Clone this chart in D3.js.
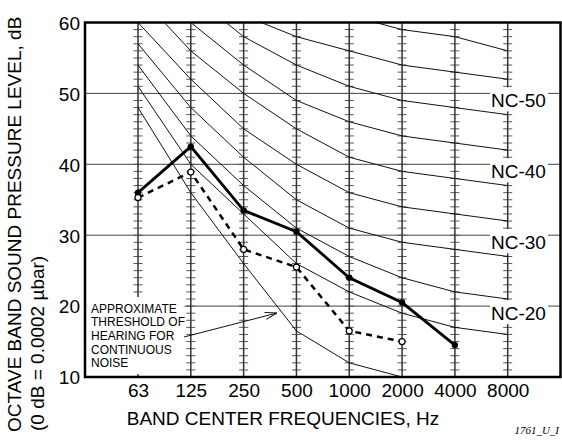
<!DOCTYPE html>
<html>
<head>
<meta charset="utf-8">
<script src="https://cdn.jsdelivr.net/npm/d3@7"></script>
<style>
  body { margin: 0; background: #fff; }
  svg { display: block; font-family: "Liberation Sans", Arial, Helvetica, sans-serif; }
  .grid line { stroke: #444; stroke-width: 1; }
  .freq-line { stroke: #333; stroke-width: 1.5; }
  .db-tick { stroke: #555; stroke-width: 1; }
  .nc-curve { fill: none; stroke: #111; stroke-width: 1; }
  .axis text { font-size: 19px; fill: #000; }
</style>
</head>
<body>
<svg id="chart"></svg>
<script>
// band centre frequencies and y axis ticks
const freqs = ['63', '125', '250', '500', '1000', '2000', '4000', '8000'];
const yTicks = [10, 20, 30, 40, 50, 60];

// NC curves, octave band levels (dB) at each frequency
const ncLevels = [20, 25, 30, 35, 40, 45, 50, 55, 60];
const ncValues = [
  [51, 40, 33, 26, 22, 19, 17, 16],
  [54, 44, 37, 31, 27, 24, 22, 21],
  [57, 48, 41, 35, 31, 29, 28, 27],
  [60, 52, 45, 40, 36, 34, 33, 32],
  [64, 56, 50, 45, 41, 39, 38, 37],
  [67, 60, 54, 49, 46, 44, 43, 42],
  [71, 64, 58, 54, 51, 49, 48, 47],
  [74, 67, 61, 58, 56, 54, 53, 52],
  [77, 71, 67, 63, 61, 59, 58, 56]
];
const ncLabeled = [50, 40, 30, 20];

// approximate threshold of hearing (63 .. 2000 Hz)
const thresholdDb = [48, 36, 26, 16.5, 12, 10];

// measured spectra
const solidDb = [36, 42.5, 33.5, 30.5, 24, 20.5, 14.5];
const dashedDb = [35.3, 38.9, 28, 25.5, 16.5, 15];

const noteLines = ['APPROXIMATE', 'THRESHOLD OF', 'HEARING FOR', 'CONTINUOUS', 'NOISE'];

const width = 562, height = 441;
const plot = { left: 85, right: 560.5, top: 22.5, bottom: 377 };

const svg = d3.select('#chart')
  .attr('width', width)
  .attr('height', height);

const xScale = d3.scalePoint()
  .domain(freqs)
  .range([138, 507.7]);

const yScale = d3.scaleLinear()
  .domain([10, 60])
  .range([plot.bottom, plot.top]);

svg.append('clipPath').attr('id', 'plot-clip')
  .append('rect')
  .attr('x', plot.left).attr('y', plot.top)
  .attr('width', plot.right - plot.left)
  .attr('height', plot.bottom - plot.top);

// horizontal grid lines
svg.append('g').attr('class', 'grid')
  .selectAll('line')
  .data(yTicks.filter(d => d > 10 && d < 60))
  .join('line')
  .attr('x1', plot.left).attr('x2', plot.right)
  .attr('y1', d => yScale(d)).attr('y2', d => yScale(d));

// frequency lines with 1 dB ticks
const dbSteps = d3.range(11, 60);
const freqG = svg.append('g').selectAll('g')
  .data(freqs)
  .join('g')
  .attr('transform', d => `translate(${xScale(d)},0)`);

freqG.selectAll('.db-tick')
  .data(dbSteps)
  .join('line')
  .attr('class', 'db-tick')
  .attr('x1', -4.5).attr('x2', 4.5)
  .attr('y1', d => yScale(d)).attr('y2', d => yScale(d));

freqG.append('line')
  .attr('class', 'freq-line')
  .attr('y1', plot.top).attr('y2', plot.bottom);

// NC curves and threshold curve
const line = d3.line()
  .x((d, i) => xScale(freqs[i]))
  .y(d => yScale(d));

const curves = svg.append('g').attr('clip-path', 'url(#plot-clip)');

curves.selectAll('.nc-curve')
  .data(ncValues)
  .join('path')
  .attr('class', 'nc-curve')
  .attr('d', d => line(d));

curves.append('path')
  .attr('class', 'nc-curve')
  .attr('d', line(thresholdDb));

// note box
svg.append('rect')
  .attr('x', plot.left + 1.5).attr('y', 297)
  .attr('width', 98).attr('height', 77)
  .attr('fill', '#fff');

svg.append('g')
  .selectAll('text')
  .data(noteLines)
  .join('text')
  .attr('x', 91)
  .attr('y', (d, i) => 312.5 + i * 13.7)
  .style('font-size', '12px')
  .text(d => d);

svg.append('defs').append('marker')
  .attr('id', 'arrow')
  .attr('viewBox', '0 0 12 8')
  .attr('refX', 12).attr('refY', 4)
  .attr('markerWidth', 12).attr('markerHeight', 8)
  .attr('markerUnits', 'userSpaceOnUse')
  .attr('orient', 'auto')
  .append('path')
  .attr('d', 'M0,0.5 L12,4 L0,7.5')
  .attr('fill', 'none')
  .attr('stroke', '#111')
  .attr('stroke-width', 1);

svg.append('line')
  .attr('x1', 184).attr('y1', 337)
  .attr('x2', 277).attr('y2', 313)
  .attr('stroke', '#111')
  .attr('stroke-width', 1)
  .attr('marker-end', 'url(#arrow)');

// NC labels on the grid lines
const ncLabel = svg.append('g').selectAll('g')
  .data(ncLabeled)
  .join('g')
  .attr('transform', d => `translate(0,${yScale(d)})`);

ncLabel.append('rect')
  .attr('x', 490).attr('y', -6)
  .attr('width', 58).attr('height', 24)
  .attr('fill', '#fff');

ncLabel.append('text')
  .attr('x', 491).attr('y', 13.5)
  .style('font-size', '19px')
  .text(d => `NC-${d}`);

// measured spectra
svg.append('path')
  .attr('d', line(dashedDb))
  .attr('fill', 'none')
  .attr('stroke', '#000')
  .attr('stroke-width', 2.5)
  .attr('stroke-dasharray', '6,5');

svg.append('path')
  .attr('d', line(solidDb))
  .attr('fill', 'none')
  .attr('stroke', '#000')
  .attr('stroke-width', 2.8);

svg.append('g').selectAll('circle')
  .data(solidDb)
  .join('circle')
  .attr('cx', (d, i) => xScale(freqs[i]))
  .attr('cy', d => yScale(d))
  .attr('r', 3.2)
  .attr('fill', '#000');

svg.append('g').selectAll('circle')
  .data(dashedDb)
  .join('circle')
  .attr('cx', (d, i) => xScale(freqs[i]))
  .attr('cy', d => yScale(d))
  .attr('r', 3)
  .attr('fill', '#fff')
  .attr('stroke', '#000')
  .attr('stroke-width', 1.2);

// frame
svg.append('rect')
  .attr('x', plot.left).attr('y', plot.top)
  .attr('width', plot.right - plot.left)
  .attr('height', plot.bottom - plot.top)
  .attr('fill', 'none')
  .attr('stroke', '#000')
  .attr('stroke-width', 2.5);

// axes (labels only)
const xAxis = d3.axisBottom(xScale).tickSize(0).tickPadding(0);
const xAxisG = svg.append('g')
  .attr('class', 'axis')
  .attr('transform', `translate(0,${plot.bottom})`)
  .call(xAxis);
xAxisG.select('.domain').remove();
xAxisG.selectAll('text').attr('dy', null).attr('y', 20);

const yAxis = d3.axisLeft(yScale).tickValues(yTicks).tickSize(0).tickPadding(0);
const yAxisG = svg.append('g')
  .attr('class', 'axis')
  .attr('transform', `translate(80,0)`)
  .call(yAxis);
yAxisG.select('.domain').remove();
yAxisG.selectAll('text').attr('dy', '0.36em');

// titles
svg.append('text')
  .attr('x', 283)
  .attr('y', 425)
  .attr('text-anchor', 'middle')
  .style('font-size', '19px')
  .text('BAND CENTER FREQUENCIES, Hz');

svg.append('text')
  .attr('transform', 'translate(21,432) rotate(-90)')
  .style('font-size', '19px')
  .text('OCTAVE BAND SOUND PRESSURE LEVEL, dB');

svg.append('text')
  .attr('transform', 'translate(44,431) rotate(-90)')
  .style('font-size', '19px')
  .text('(0 dB = 0.0002 \u00b5bar)');

svg.append('text')
  .attr('x', 559)
  .attr('y', 434)
  .attr('text-anchor', 'end')
  .style('font-family', '"Liberation Serif", "Times New Roman", serif')
  .style('font-style', 'italic')
  .style('font-size', '11px')
  .text('1761_U_I');
</script>
</body>
</html>
